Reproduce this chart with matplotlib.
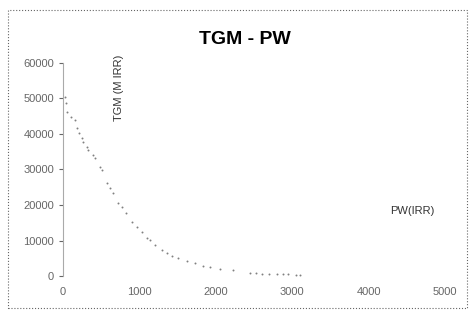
import matplotlib
matplotlib.use("Agg")
import matplotlib.pyplot as plt
from matplotlib.patches import Rectangle

# values
pw = [26, 40, 52, 105, 157, 183, 210, 250, 262, 314, 327, 393, 419, 484, 510,
      576, 615, 654, 720, 772, 825, 903, 969, 1034, 1099, 1139, 1204, 1296,
      1361, 1427, 1505, 1623, 1728, 1832, 1924, 2055, 2225, 2450, 2520,
      2600, 2700, 2800, 2880, 2950, 3050, 3100]
tgm = [50400, 48700, 46200, 44800, 43900, 41700, 40300, 38900, 37700, 36300,
       35500, 34100, 33200, 30700, 29900, 26200, 24800, 23400, 20600, 19400,
       17700, 15200, 13800, 12400, 10700, 10100, 8700, 7300, 6500, 5600, 5100,
       4200, 3700, 2800, 2500, 2000, 1700, 850, 800, 700, 650, 600, 560, 450,
       320, 280]
x_ticks = [0, 1000, 2000, 3000, 4000, 5000]
y_ticks = [0, 10000, 20000, 30000, 40000, 50000, 60000]

fig = plt.figure(figsize=(4.71, 3.11), dpi=100)
plt.rcParams['font.family'] = ['Liberation Sans', 'DejaVu Sans']

ax = fig.add_axes([0.1338, 0.1125, 0.811, 0.685])
ax.scatter(pw, tgm, s=2, color='#808080', linewidths=0)
ax.set_xlim(0, 5000)
ax.set_ylim(0, 60000)
ax.set_xticks(x_ticks)
ax.set_yticks(y_ticks)
ax.tick_params(axis='both', labelsize=8, colors='#666666', length=3)
ax.tick_params(axis='x', length=0, pad=8)
for s in ['top', 'right', 'bottom']:
    ax.spines[s].set_visible(False)
ax.spines['left'].set_color('#aaaaaa')

fig.text(245 / 471, 1 - 40 / 311, "TGM - PW", ha='center', va='center',
         fontsize=14, fontweight='bold')
fig.text(119 / 471, 1 - 88 / 311, "TGM (M IRR)", rotation=90, ha='center',
         va='center', fontsize=8, color='#333333')
fig.text(412 / 471, 1 - 211 / 311, "PW(IRR)", ha='center', va='center',
         fontsize=8, color='#333333')

# dotted chart border
fig.patches.append(Rectangle((8 / 471, 0.01), 0.975, 1 - 10 / 311 - 0.01,
                             transform=fig.transFigure, fill=False,
                             edgecolor='#666666', linestyle=':', linewidth=0.8))

fig.savefig("out.png", dpi=100)
